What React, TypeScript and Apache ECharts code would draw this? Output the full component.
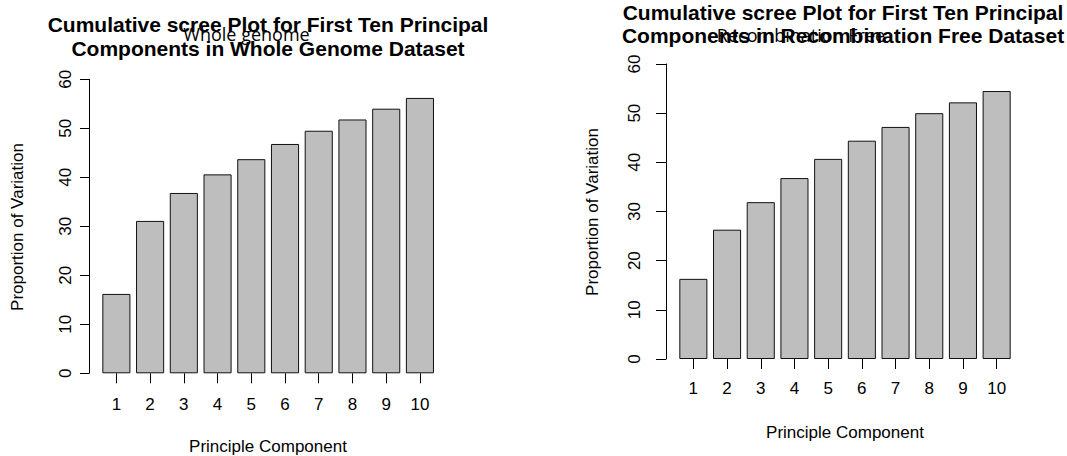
import React, { useEffect, useRef } from "react";
import * as echarts from "echarts";

// Principal component indices shown on the x axes
const components = ["1", "2", "3", "4", "5", "6", "7", "8", "9", "10"];

// Cumulative proportion of variation (%) for each panel
const wholeGenome = [16.2, 31.1, 36.8, 40.6, 43.7, 46.8, 49.5, 51.8, 54.0, 56.2];
const recombinationFree = [16.3, 26.3, 31.9, 36.8, 40.7, 44.4, 47.2, 50.0, 52.2, 54.5];

// Y axis range shared by both panels
const yMin = 0;
const yMax = 60;
const yStep = 10;

const FONT = '"Liberation Sans", Arial, Helvetica, sans-serif';
const BASE = 17;

function yAxisFor(gridIndex: number, tickLen: number, margin: number) {
  return {
    type: "value",
    gridIndex,
    min: yMin,
    max: yMax,
    interval: yStep,
    offset: 10.5,
    splitLine: { show: false },
    axisLine: { show: true, lineStyle: { color: "#000", width: 1 } },
    axisTick: { show: true, length: tickLen, lineStyle: { color: "#000", width: 1 } },
    axisLabel: {
      rotate: 90,
      margin,
      color: "#000",
      fontSize: BASE,
      fontFamily: FONT,
    },
  };
}

function xAxisFor(gridIndex: number, tickLen: number, margin: number) {
  return {
    type: "category",
    gridIndex,
    data: components,
    axisLine: { show: false },
    axisTick: {
      show: true,
      alignWithLabel: true,
      length: tickLen,
      lineStyle: { color: "#000", width: 1 },
    },
    axisLabel: {
      margin,
      color: "#000",
      fontSize: BASE,
      fontFamily: FONT,
    },
    splitLine: { show: false },
  };
}

function barSeries(index: number, values: number[]) {
  return {
    type: "bar",
    xAxisIndex: index,
    yAxisIndex: index,
    data: values,
    barCategoryGap: "16.7%",
    itemStyle: { color: "#bebebe", borderColor: "#111", borderWidth: 1 },
  };
}

function text(
  content: string,
  x: number,
  y: number,
  font: string,
  rotation = 0
) {
  return {
    type: "text",
    x,
    y,
    rotation,
    z: 10,
    style: {
      text: content,
      font,
      fill: "#000",
      align: "center",
      verticalAlign: "middle",
    },
  };
}

export default function App() {
  const ref = useRef<HTMLDivElement>(null);

  useEffect(() => {
    if (!ref.current) return;
    const chart = echarts.init(ref.current, undefined, { renderer: "svg" });
    const titleFont = `bold 21px ${FONT}`;
    const labelFont = `${BASE}px ${FONT}`;
    const subFont = `18px "Open Sans", "Noto Sans", sans-serif`;

    chart.setOption({
      animation: false,
      backgroundColor: "#fff",
      grid: [
        { left: 99.5, top: 79.3, width: 337.3, height: 294 },
        { left: 676.5, top: 64, width: 337, height: 295 },
      ],
      xAxis: [xAxisFor(0, 10, 23), xAxisFor(1, 10, 20.5)],
      yAxis: [yAxisFor(0, 9, 15.5), yAxisFor(1, 10, 23.5)],
      series: [barSeries(0, wholeGenome), barSeries(1, recombinationFree)],
      graphic: [
        text("Cumulative scree Plot for First Ten Principal", 268, 24, titleFont),
        text("Components in Whole Genome Dataset", 268, 48, titleFont),
        text("Whole genome", 246.5, 34, subFont),
        text("Proportion of Variation", 17.5, 227, labelFont, Math.PI / 2),
        text("Principle Component", 268, 446, labelFont),

        text("Cumulative scree Plot for First Ten Principal", 843, 12, titleFont),
        text("Components in Recombination Free Dataset", 843, 35, titleFont),
        text("Recombination Free", 801, 35, subFont),
        text("Proportion of Variation", 592, 212, labelFont, Math.PI / 2),
        text("Principle Component", 845, 432, labelFont),
      ],
    });

    return () => chart.dispose();
  }, []);

  return (
    <div
      ref={ref}
      style={{ position: "fixed", left: 0, top: 0, width: 1067, height: 456 }}
    />
  );
}
